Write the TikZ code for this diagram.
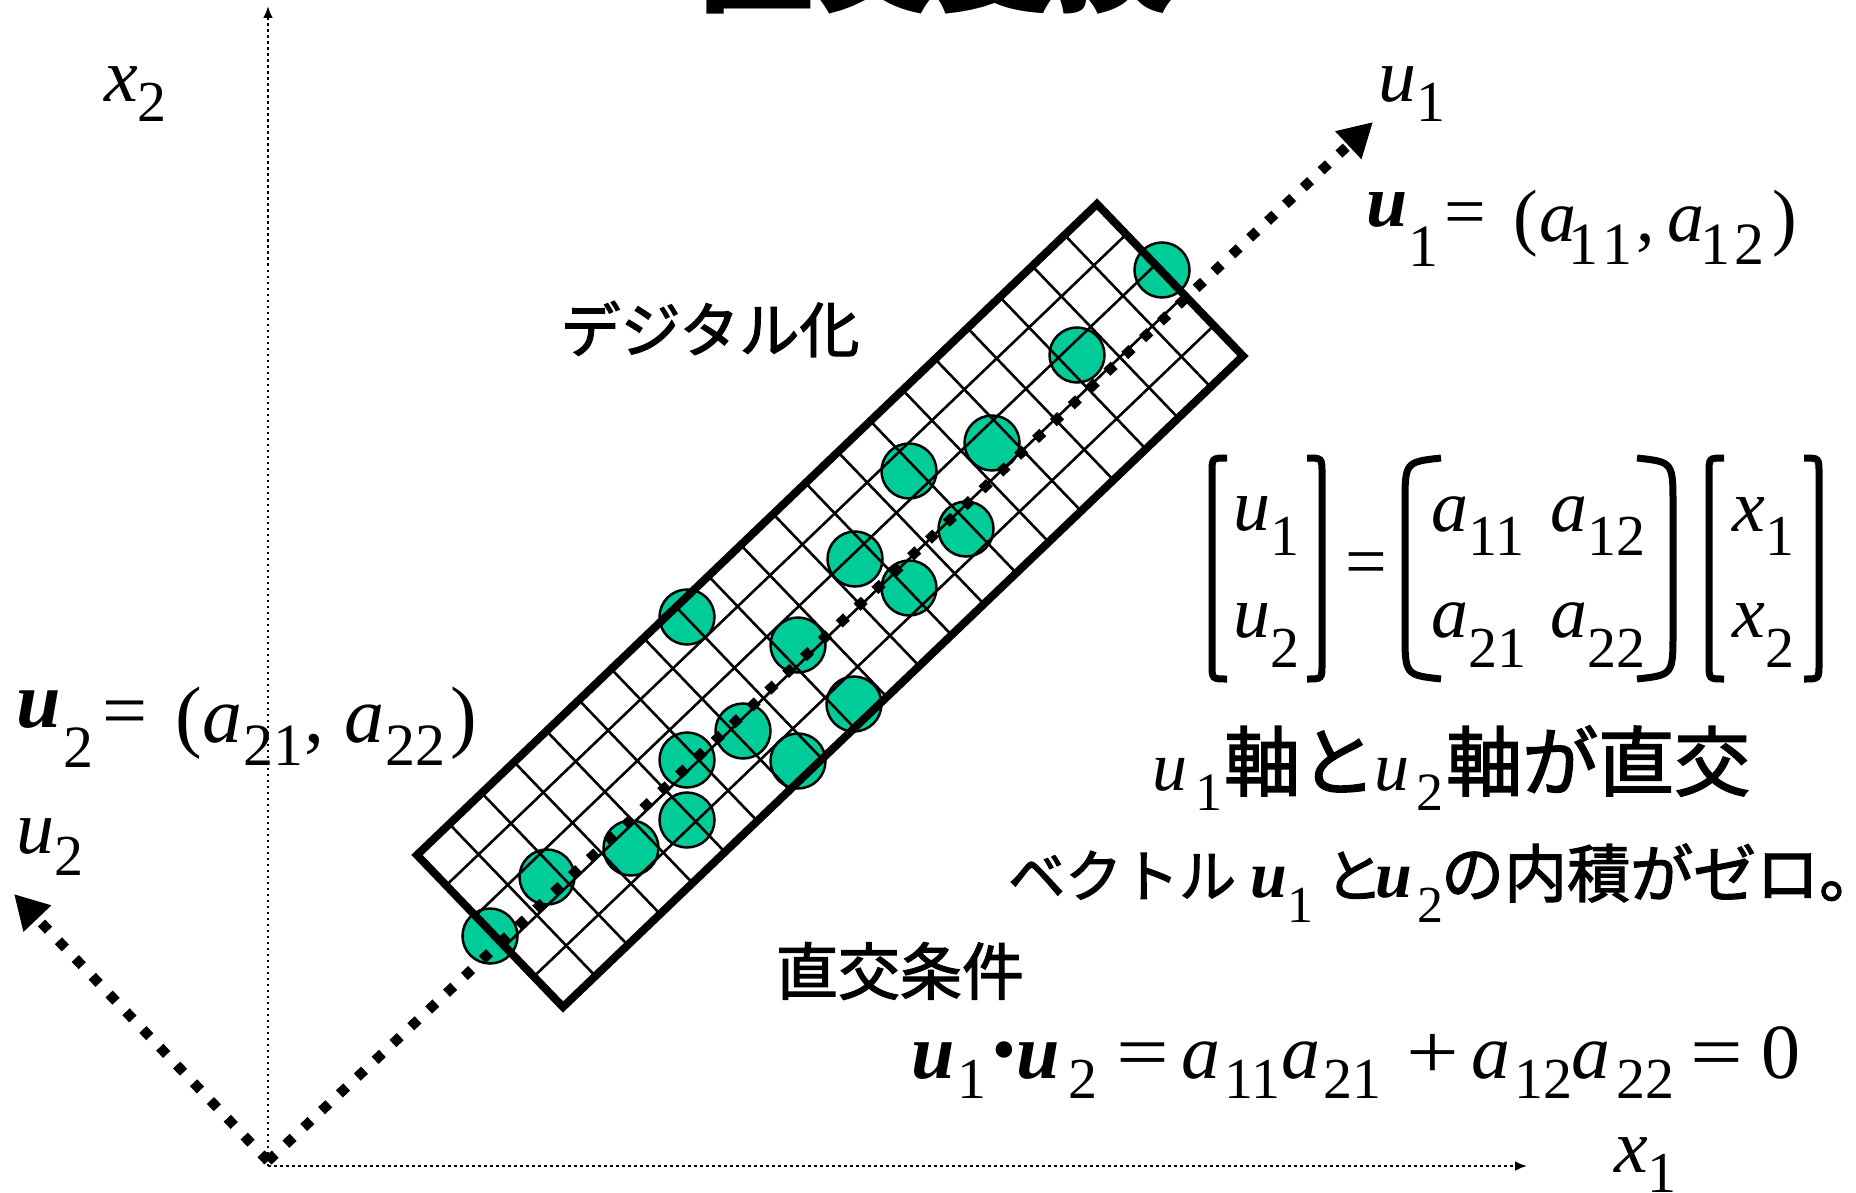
\documentclass[tikz,border=0pt]{standalone}
\usepackage{fontspec}
\setmainfont{Liberation Serif}
\newfontfamily\jp{Noto Sans CJK JP}[FakeBold=2]
\newfontfamily\jpt{Noto Sans CJK JP}
\usetikzlibrary{arrows.meta,calc}
\definecolor{teal1}{RGB}{0,204,153}
\newcommand{\fs}[1]{\fontsize{#1}{#1}\selectfont}
\newcommand{\vu}{\textbf{\textit{u}}}
\newcommand{\iu}{\textit{u}}
\newcommand{\ia}{\textit{a}}
\newcommand{\ix}{\textit{x}}
\newcommand{\sbx}[3]{\raisebox{-#1pt}{\fs{#2}#3}}
\newcommand{\pc}[2]{\makebox[#1pt][l]{#2}}
\newcommand{\two}[2]{#1\kern4pt#2}
\begin{document}
\begin{tikzpicture}[x=1pt,y=-1pt,
  thinaxis/.style={line width=2.5pt, dash pattern=on 2.5pt off 3.5pt, -{Latex[length=12pt,width=10pt]}},
  thickaxis/.style={line width=10pt, dash pattern=on 10pt off 14.5pt, -{Triangle[length=34pt,width=36pt]}},
  txt/.style={inner sep=0pt, anchor=base west},
  dotc/.style={circle, draw=black, line width=2.5pt, fill=teal1, minimum size=55pt, inner sep=0pt},
  gridl/.style={line width=2.6pt},
  border/.style={line width=8pt, line join=miter},
  brk/.style={line width=7pt, line cap=butt}]
\useasboundingbox (0,0) rectangle (1856,1193);

% title (cut at top)
\node[inner sep=0pt, anchor=base] (title) at (935,3) {\jpt\bfseries\fs{120}直交変換};

% thin axes
\coordinate (O) at (268,1166);
\coordinate (x1e) at (1527,1166);
\coordinate (x2e) at (268,6);
\draw[thinaxis] (O) -- (x1e);
\draw[thinaxis] (O) -- (x2e);

% circles
\node[dotc] (c1) at (1162,270) {};
\node[dotc] (c2) at (1077,355) {};
\node[dotc] (c3) at (992,443) {};
\node[dotc] (c4) at (909,471) {};
\node[dotc] (c5) at (966,529) {};
\node[dotc] (c6) at (855,559) {};
\node[dotc] (c7) at (909,588) {};
\node[dotc] (c8) at (687,617) {};
\node[dotc] (c9) at (798,645) {};
\node[dotc] (c10) at (854,704) {};
\node[dotc] (c11) at (743,731) {};
\node[dotc] (c12) at (687,760) {};
\node[dotc] (c13) at (798,761) {};
\node[dotc] (c14) at (687,820) {};
\node[dotc] (c15) at (631,848) {};
\node[dotc] (c16) at (547,877) {};
\node[dotc] (c17) at (490,936) {};

% grid rectangle
\coordinate (B) at (563,1007);
\coordinate (L) at (417,855);
\coordinate (R) at (1243,356);
\coordinate (T) at ($(L)+(R)-(B)$);
\foreach \i in {1,...,4} \draw[gridl] ($(B)!\i/5!(L)$) -- ($(R)!\i/5!(T)$);
\foreach \j in {1,...,20} \draw[gridl] ($(B)!\j/21!(R)$) -- ($(L)!\j/21!(T)$);
\draw[border] (B) -- (L) -- (T) -- (R) -- cycle;

% thick axes
\coordinate (Ou) at (268,1161);
\coordinate (u1e) at (1373,122);
\coordinate (u2e) at (14,894);
\draw[thickaxis] (Ou) -- (u1e);
\draw[thickaxis] (Ou) -- (u2e);

% axis labels
\node[txt] (lx2) at (104,102) {\fs{76}\ix\sbx{20}{58}{2}};
\node[txt] (lu1) at (1378,102) {\fs{76}\iu\sbx{20}{58}{1}};
\node[txt] (lu2) at (16,853) {\fs{76}\iu\sbx{22}{58}{2}};
\node[txt] (lx1) at (1614,1172) {\fs{76}\ix\sbx{20}{58}{1}};

% vector definitions
\node[txt] (fu1) at (1366,242) {\fs{74}\pc{42}{\raisebox{15pt}{\vu}}\pc{36}{\sbx{25}{60}{1}}\pc{69}{\raisebox{5pt}{=}}\pc{26}{(}\pc{29}{\ia}\pc{68}{\sbx{23}{60}{\two{1}{1}}}\pc{31}{,}\pc{33}{\ia}\pc{72}{\sbx{23}{60}{\two{1}{2}}})};
\node[txt] (fu2) at (16,742) {\fs{80}\pc{47}{\raisebox{15pt}{\vu}}\pc{39}{\sbx{25}{60}{2}}\pc{73}{\raisebox{5pt}{=}}\pc{27}{(}\pc{41}{\ia}\pc{61}{\sbx{23}{60}{21}}\pc{40}{,}\pc{41}{\ia}\pc{65}{\sbx{23}{60}{22}})};

% Japanese labels
\node[inner sep=0pt] (dig) at (710,329) {\jp\fs{60}デジタル化};
\node[inner sep=0pt] (cond) at (900,971) {\jp\fs{62}直交条件};

% matrix equation
\node[txt] (mu1) at (1233,530) {\fs{74}\iu\sbx{25}{58}{1}};
\node[txt] (mu2) at (1233,637) {\fs{74}\iu\sbx{30}{58}{2}};
\node[inner sep=0pt] (meq) at (1366,570) {\fs{74}=};
\node[txt] (m11) at (1431,531) {\fs{74}\ia\sbx{24}{58}{11}};
\node[txt] (m12) at (1550,531) {\fs{74}\ia\sbx{24}{58}{12}};
\node[txt] (m21) at (1431,637) {\fs{74}\ia\sbx{30}{58}{21}};
\node[txt] (m22) at (1550,637) {\fs{74}\ia\sbx{30}{58}{22}};
\node[txt] (mx1) at (1732,531) {\fs{74}\ix\sbx{24}{58}{1}};
\node[txt] (mx2) at (1732,637) {\fs{74}\ix\sbx{30}{58}{2}};
\draw[brk] (1227,458) .. controls (1212,458) .. (1212,473) -- (1212,664) .. controls (1212,679) .. (1227,679);
\draw[brk] (1307,458) .. controls (1322,458) .. (1322,473) -- (1322,664) .. controls (1322,679) .. (1307,679);
\draw[brk] (1441,458) .. controls (1405,462) .. (1405,505) -- (1405,632) .. controls (1405,675) .. (1441,679);
\draw[brk] (1637,458) .. controls (1673,462) .. (1673,505) -- (1673,632) .. controls (1673,675) .. (1637,679);
\draw[brk] (1724,458) .. controls (1709,458) .. (1709,473) -- (1709,664) .. controls (1709,679) .. (1724,679);
\draw[brk] (1804,458) .. controls (1819,458) .. (1819,473) -- (1819,664) .. controls (1819,679) .. (1804,679);

% statements
\node[txt] (s1) at (1152,790) {\pc{43}{\fs{70}\iu}\pc{29}{\sbx{20}{54}{1}}\pc{150}{\jp\fs{76}軸と}\pc{42}{\fs{70}\iu}\pc{30}{\sbx{20}{54}{2}}{\jp\fs{76}軸が直交}};
\node[txt] (s2) at (1008,897) {\pc{242}{\jp\fs{57}ベクトル}\pc{37}{\fs{66}\vu}\pc{38}{\sbx{25}{52}{1}}\pc{50}{\jp\fs{58}と}\pc{42}{\fs{66}\vu}\pc{24}{\sbx{25}{52}{2}}{\jp\fs{63}の内積がゼロ。}};

% orthogonality condition
\node[txt] (f3) at (911,1078) {\fs{78}\pc{46}{\vu}\pc{30}{\sbx{20}{58}{1}}\pc{29}{\raisebox{-5pt}{\scalebox{1.3}{\textbf{\textperiodcentered}}}}\pc{52}{\vu}\pc{48}{\sbx{20}{58}{2}}\pc{65}{\scalebox{1.2}[1]{=}}\pc{43}{\ia}\pc{57}{\sbx{20}{58}{11}}\pc{42}{\ia}\pc{83}{\sbx{20}{58}{21}}\pc{65}{\scalebox{1.2}[1]{+}}\pc{43}{\ia}\pc{57}{\sbx{20}{58}{12}}\pc{45}{\ia}\pc{74}{\sbx{20}{58}{22}}\pc{71}{\scalebox{1.2}[1]{=}}0};
\end{tikzpicture}
\end{document}
